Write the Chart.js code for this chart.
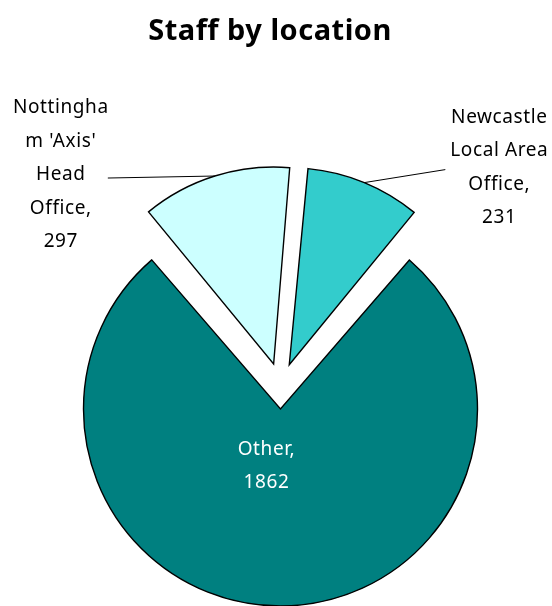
<!DOCTYPE html>
<html>
<head>
<meta charset="utf-8">
<script src="https://cdn.jsdelivr.net/npm/chart.js@4"></script>
<style>
  html, body { margin: 0; padding: 0; background: #fff; }
  #wrap { width: 552px; height: 606px; position: relative; }
</style>
</head>
<body>
<div id="wrap"><canvas id="chart_1"></canvas></div>
<script>
const chartTitle = 'Staff by location';
const categories = ['Newcastle Local Area Office', 'Other', "Nottingham 'Axis' Head Office"];
const staffCounts = [231, 1862, 297];
const sliceColors = ['#33CCCC', '#008080', '#CCFFFF'];

// where each data label sits (relative to its slice) and how it wraps
const labelStyle = [
    { anchor: 'outer', dx: 135, dy: -15, maxChars: 10, color: '#000', leader: [-54, 2] },
    { anchor: 'apex', dx: -14, dy: 57, maxChars: 10, color: '#fff' },
    { anchor: 'outer', dx: -154, dy: -1, maxChars: 9, color: '#000', leader: [47, 3] },
];
const labelFont = '19px "Noto Sans"';
const labelLineHeight = 33.5;
const titleFont = 'bold 29px "Noto Sans"';
const titlePos = { x: 270, y: 32 };

function wrapLabel(text, maxChars) {
    const lines = [];
    let line = '';
    for (let word of text.split(' ')) {
        if (line && (line + ' ' + word).length <= maxChars) {
            line += ' ' + word;
            continue;
        }
        if (line) { lines.push(line); line = ''; }
        while (word.length > maxChars) {
            lines.push(word.slice(0, maxChars));
            word = word.slice(maxChars);
        }
        line = word;
    }
    if (line) lines.push(line);
    return lines;
}

const pieDecor = {
    id: 'pieDecor',
    beforeDatasetsDraw(chart) {
        // exploded slices get a bigger radius in Chart.js, pull them back to one radius
        const meta = chart.getDatasetMeta(0);
        const R = meta.controller.outerRadius;
        meta.data.forEach(arc => {
            const shift = (arc.options.offset || 0) / 4;
            const fix = 1 - Math.sin(Math.min(Math.PI, arc.circumference));
            arc.outerRadius = R - shift * fix;
        });
    },
    afterDatasetsDraw(chart) {
        const ctx = chart.ctx;
        const meta = chart.getDatasetMeta(0);
        const R = meta.controller.outerRadius;
        meta.data.forEach((arc, i) => {
            const st = labelStyle[i];
            const mid = (arc.startAngle + arc.endAngle) / 2;
            const shift = (arc.options.offset || 0) / 4;
            let bx = arc.x + Math.cos(mid) * shift;
            let by = arc.y + Math.sin(mid) * shift;
            if (st.anchor === 'outer') {
                bx += Math.cos(mid) * R;
                by += Math.sin(mid) * R;
            }
            const cx = bx + st.dx, cy = by + st.dy;
            ctx.save();
            if (st.leader) {
                ctx.strokeStyle = '#000';
                ctx.lineWidth = 1;
                ctx.beginPath();
                ctx.moveTo(bx, by);
                ctx.lineTo(cx + st.leader[0], cy + st.leader[1]);
                ctx.stroke();
            }
            const lines = wrapLabel(categories[i] + ', ' + staffCounts[i], st.maxChars);
            ctx.font = labelFont;
            ctx.letterSpacing = '0.6px';
            ctx.fillStyle = st.color;
            ctx.textAlign = 'center';
            ctx.textBaseline = 'middle';
            lines.forEach((ln, k) => {
                ctx.fillText(ln, cx, cy + (k - (lines.length - 1) / 2) * labelLineHeight);
            });
            ctx.restore();
        });
    },
    afterDraw(chart) {
        const ctx = chart.ctx;
        ctx.save();
        ctx.font = titleFont;
        ctx.letterSpacing = '0.5px';
        ctx.fillStyle = '#000';
        ctx.textAlign = 'center';
        ctx.textBaseline = 'middle';
        ctx.fillText(chartTitle, titlePos.x, titlePos.y);
        ctx.restore();
    }
};

window.addEventListener('DOMContentLoaded', () => {
    new Chart(document.getElementById('chart_1'), {
        type: 'pie',
        data: {
            labels: categories,
            datasets: [{
                data: staffCounts,
                backgroundColor: sliceColors,
                borderColor: '#000',
                borderWidth: 1.4,
                borderJoinStyle: 'miter',
                offset: 92,
                hoverOffset: 0,
                clip: false
            }]
        },
        options: {
            responsive: true,
            maintainAspectRatio: false,
            animation: false,
            rotation: 5,
            radius: 197,
            layout: { padding: { top: 170, bottom: 4, left: 9, right: 0 } },
            plugins: {
                legend: { display: false },
                title: { display: false },
                tooltip: { enabled: false }
            }
        },
        plugins: [pieDecor]
    });
});
</script>
</body>
</html>
